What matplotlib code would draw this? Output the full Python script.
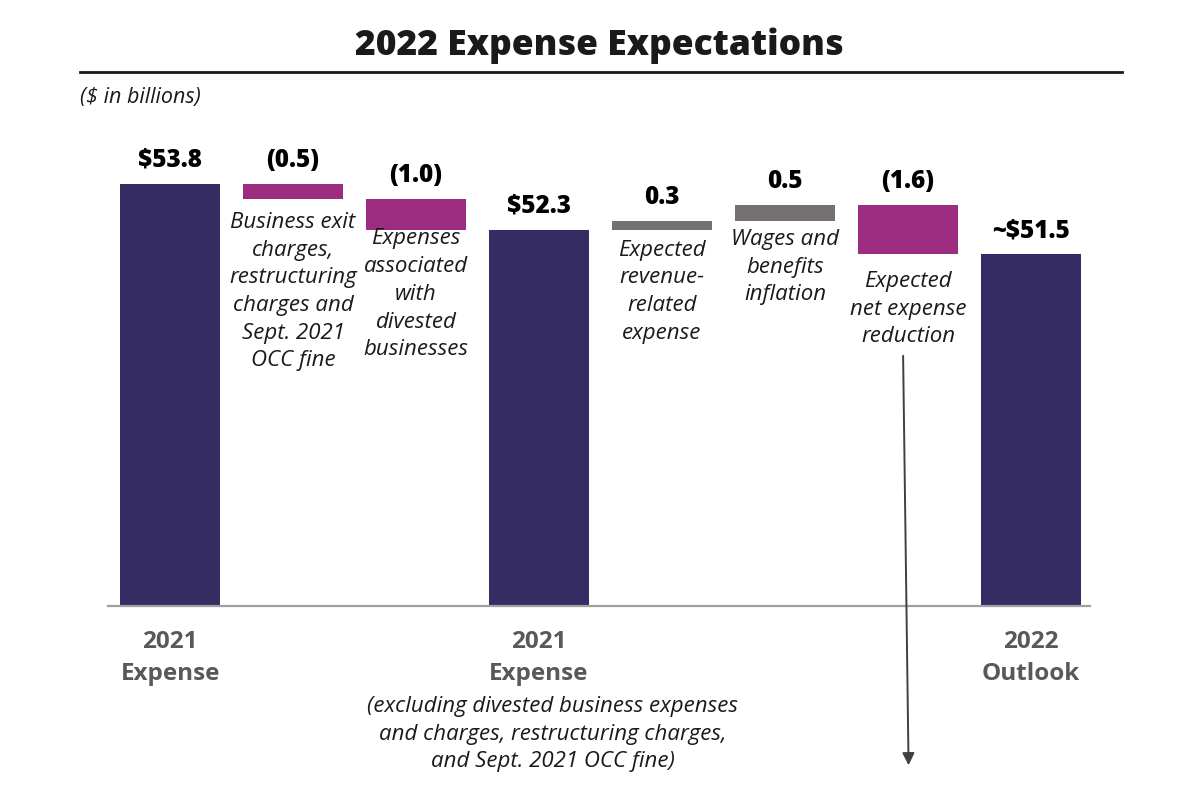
import numpy as np
import matplotlib.pyplot as plt

# =============================================================================
# DATA
# =============================================================================
bar_kinds = ["total", "step", "step", "total", "step", "step", "step", "total"]
bar_values = [53.8, -0.5, -1.0, 52.3, 0.3, 0.5, -1.6, 51.5]
value_labels = ["$53.8", "(0.5)", "(1.0)", "$52.3", "0.3", "0.5", "(1.6)", "~$51.5"]
descriptions = [
    "",
    "Business exit\ncharges,\nrestructuring\ncharges and\nSept. 2021\nOCC fine",
    "Expenses\nassociated\nwith\ndivested\nbusinesses",
    "",
    "Expected\nrevenue-\nrelated\nexpense",
    "Wages and\nbenefits\ninflation",
    "Expected\nnet expense\nreduction",
    "",
]
tick_labels = {0: "2021\nExpense", 3: "2021\nExpense", 7: "2022\nOutlook"}
footnote = ("(excluding divested business expenses\n"
            "and charges, restructuring charges,\n"
            "and Sept. 2021 OCC fine)")

# =============================================================================
# STYLE
# =============================================================================
NAVY = "#352C63"
MAGENTA = "#9C2C7F"
GREY = "#767171"
FONT = "Open Sans"
PX = 30.58                                  # pixels per $1B on the y axis
desc_gap = [0, 9, -1, 0, 7, 6, 12, 0]       # points below each floating bar

plt.rcParams["font.family"] = [FONT, "DejaVu Sans"]

fig = plt.figure(figsize=(11.98, 7.88), dpi=100)
ax = fig.add_axes([108 / 1198, 1 - 606 / 788, 982 / 1198, 506 / 788])

# waterfall geometry
x = np.arange(len(bar_values))
bottoms, heights, colors = [], [], []
running = 0.0
for kind, v in zip(bar_kinds, bar_values):
    if kind == "total":
        bottoms.append(0.0)
        heights.append(v)
        colors.append(NAVY)
        running = v
    else:
        bottoms.append(running)
        heights.append(v)
        colors.append(MAGENTA if v < 0 else GREY)
        running += v

ax.bar(x, heights, bottom=bottoms, width=0.815, color=colors, zorder=2)

ax.set_xlim(-0.505, 7.48)
ax.set_ylim(40, 40 + 506 / PX)

for i in x:
    top = max(bottoms[i], bottoms[i] + heights[i])
    low = min(bottoms[i], bottoms[i] + heights[i])
    ax.annotate(value_labels[i], (i, top), xytext=(0, 17), textcoords="offset points",
                ha="center", va="center", fontsize=17.5, fontweight="heavy",
                color="black")
    if descriptions[i]:
        ax.annotate(descriptions[i], (i, low), xytext=(0, -desc_gap[i]),
                    textcoords="offset points", ha="center", va="top",
                    fontsize=16, style="italic", color="#1a1a1a", linespacing=1.42)

# axes cosmetics
for s in ["top", "right", "left"]:
    ax.spines[s].set_visible(False)
ax.spines["bottom"].set_color("#a0a0a0")
ax.spines["bottom"].set_linewidth(1.6)
ax.set_yticks([])
ax.set_xticks(list(tick_labels.keys()))
ax.set_xticklabels(list(tick_labels.values()), fontsize=17.5, fontweight="bold",
                   color="#595959", linespacing=1.45)
ax.tick_params(axis="x", length=0, pad=17)

ax.text(3.11, 40 - 90 / PX, footnote, ha="center", va="top",
        fontsize=16, style="italic", color="#1a1a1a", linespacing=1.42)

# arrow from the net expense reduction text down below the axis
ax.annotate("", xy=(6.005, 40 - 162 / PX), xytext=(5.96, 40 + 253 / PX),
            arrowprops=dict(arrowstyle="-|>", color="#404040", lw=1.4,
                            mutation_scale=18), annotation_clip=False)

# header
fig.text(0.5, 1 - 46 / 788, "2022 Expense Expectations", ha="center", va="center",
         fontsize=25.5, fontweight="heavy", color="#1a1a1a")
fig.add_artist(plt.Line2D([80 / 1198, 1122 / 1198], [1 - 72 / 788] * 2,
                          color="#1a1a1a", lw=2))
fig.text(80 / 1198, 1 - 98 / 788, "($ in billions)", ha="left", va="center",
         fontsize=15.5, style="italic", color="#1a1a1a")

fig.savefig("out.png", dpi=100)
